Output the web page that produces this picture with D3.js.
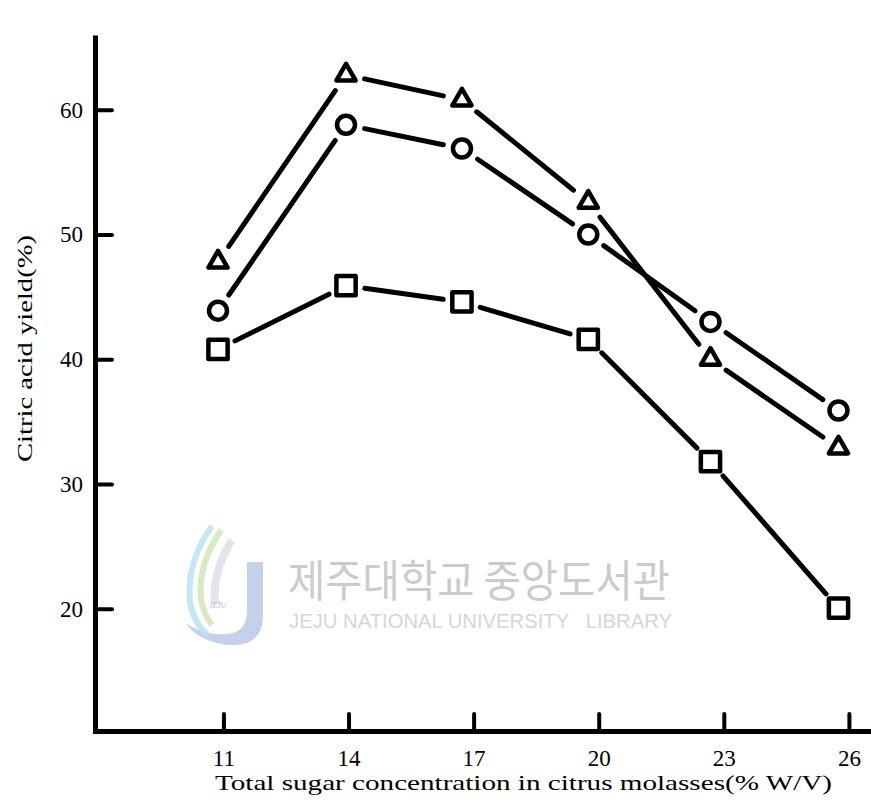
<!DOCTYPE html>
<html>
<head>
<meta charset="utf-8">
<script src="https://cdn.jsdelivr.net/npm/d3@7"></script>
<style>
  html, body { margin: 0; padding: 0; background: #fff; }
  svg { display: block; }
</style>
</head>
<body>
<svg id="chart" width="871" height="803"></svg>
<script>
// Sugar concentration tick labels (% W/V)
const sugarTicks = [11, 14, 17, 20, 23, 26];
// Concentrations at which each point is plotted
const sugarConc = [10.87, 13.94, 16.72, 19.75, 22.68, 25.75];
// Citric acid yield (%) for the three series
const yieldTriangle = [47.8, 62.8, 60.8, 52.6, 40.0, 32.9];
const yieldCircle   = [43.9, 58.8, 56.9, 50.0, 43.0, 35.9];
const yieldSquare   = [40.8, 45.9, 44.6, 41.6, 31.8, 20.05];
const yieldTicks = [20, 30, 40, 50, 60];

const svg = d3.select("#chart");

const x = d3.scaleLinear().domain([7.92, 26.53]).range([95, 871]);
const y = d3.scaleLinear().domain([10.2, 66]).range([731, 35]);

const serif = "'Liberation Serif', 'DejaVu Serif', serif";

// ---- faint library watermark ----
const wm = svg.append("g").attr("class", "watermark");
wm.append("path")
  .attr("d", "M247,562 L263,562 L263,616 Q263,647 228,645 Q200,642 186,624 Q212,638 233,633 Q247,629 247,610 Z")
  .attr("fill", "#b9c9e8").attr("opacity", 0.85);
wm.append("path")
  .attr("d", "M212,526 Q186,562 190,602 Q193,622 207,634")
  .attr("fill", "none").attr("stroke", "#bfe3f3").attr("stroke-width", 6).attr("opacity", 0.9);
wm.append("path")
  .attr("d", "M221,530 Q197,566 201,600 Q204,615 212,625")
  .attr("fill", "none").attr("stroke", "#d3e8bd").attr("stroke-width", 6).attr("opacity", 0.9);
wm.append("path")
  .attr("d", "M232,540 Q212,572 215,604")
  .attr("fill", "none").attr("stroke", "#e2e6ec").attr("stroke-width", 8);
wm.append("text")
  .attr("x", 218).attr("y", 608).attr("text-anchor", "middle")
  .attr("font-family", serif).attr("font-size", 8).attr("fill", "#b8bcc4")
  .text("JEJU");
wm.append("text")
  .attr("x", 288).attr("y", 597)
  .attr("font-family", "'Noto Sans CJK KR', sans-serif")
  .attr("font-size", 44).attr("fill", "#cbcbcb")
  .attr("textLength", 382).attr("lengthAdjust", "spacingAndGlyphs")
  .text("제주대학교 중앙도서관");
wm.append("text")
  .attr("x", 289).attr("y", 628)
  .attr("font-family", "'Liberation Sans', Arial, sans-serif")
  .attr("font-size", 21).attr("fill", "#d6d6d6")
  .style("white-space", "pre")
  .attr("textLength", 383).attr("lengthAdjust", "spacingAndGlyphs")
  .text("JEJU NATIONAL UNIVERSITY   LIBRARY");

// ---- axes ----
const xAxis = d3.axisBottom(x)
  .tickValues(sugarTicks)
  .tickSize(-17).tickSizeOuter(0).tickPadding(19)
  .tickFormat(d3.format("d"));
const gx = svg.append("g").attr("transform", `translate(0,${y(10.2)})`).call(xAxis);

const yAxis = d3.axisLeft(y)
  .tickValues(yieldTicks)
  .tickSize(-17).tickSizeOuter(0).tickPadding(12)
  .tickFormat(d3.format("d"));
const gy = svg.append("g").attr("transform", `translate(${x(7.92)},0)`).call(yAxis);

[gx, gy].forEach(g => {
  g.select(".domain").attr("stroke", "#000").attr("stroke-width", 5);
  g.selectAll(".tick line").attr("stroke", "#000").attr("stroke-width", 4).attr("stroke-linecap", "round");
  g.selectAll(".tick text")
    .attr("font-family", serif).attr("font-size", 23).attr("fill", "#000");
});
gx.select(".domain").attr("stroke-linecap", "square");

// axis titles
svg.append("text")
  .attr("x", 215).attr("y", 790)
  .attr("font-family", serif).attr("font-size", 21).attr("fill", "#000")
  .attr("textLength", 617).attr("lengthAdjust", "spacingAndGlyphs")
  .text("Total sugar concentration in citrus molasses(% W/V)");

svg.append("text")
  .attr("transform", `translate(32,${(235 + 462) / 2}) rotate(-90)`)
  .attr("text-anchor", "middle")
  .attr("font-family", serif).attr("font-size", 22).attr("fill", "#000")
  .attr("textLength", 227).attr("lengthAdjust", "spacingAndGlyphs")
  .text("Citric acid yield(%)");

// ---- series: connecting segments with gaps at each marker ----
const series = [
  { name: "triangle", values: yieldTriangle, symbol: d3.symbolTriangle, size: 160 },
  { name: "circle",   values: yieldCircle,   symbol: null },
  { name: "square",   values: yieldSquare,   symbol: d3.symbolSquare, size: 370 }
];

const gap = 19;
series.forEach(s => {
  const pts = s.values.map((v, i) => [x(sugarConc[i]), y(v)]);
  const g = svg.append("g").attr("class", "series-" + s.name);
  for (let i = 0; i < pts.length - 1; i++) {
    const [x0, y0] = pts[i], [x1, y1] = pts[i + 1];
    const len = Math.hypot(x1 - x0, y1 - y0);
    const ux = (x1 - x0) / len, uy = (y1 - y0) / len;
    g.append("line")
      .attr("x1", x0 + ux * gap).attr("y1", y0 + uy * gap)
      .attr("x2", x1 - ux * gap).attr("y2", y1 - uy * gap)
      .attr("stroke", "#000").attr("stroke-width", 5).attr("stroke-linecap", "round");
  }
  const marks = g.selectAll(".mark").data(pts).join(s.symbol ? "path" : "circle")
    .attr("class", "mark")
    .attr("fill", "#fff").attr("stroke", "#000").attr("stroke-width", 4.5)
    .attr("stroke-linejoin", "round");
  if (s.symbol) {
    marks.attr("transform", d => `translate(${d[0]},${d[1]})`)
      .attr("d", d3.symbol().type(s.symbol).size(s.size));
  } else {
    marks.attr("cx", d => d[0]).attr("cy", d => d[1]).attr("r", 9);
  }
});
</script>
</body>
</html>
